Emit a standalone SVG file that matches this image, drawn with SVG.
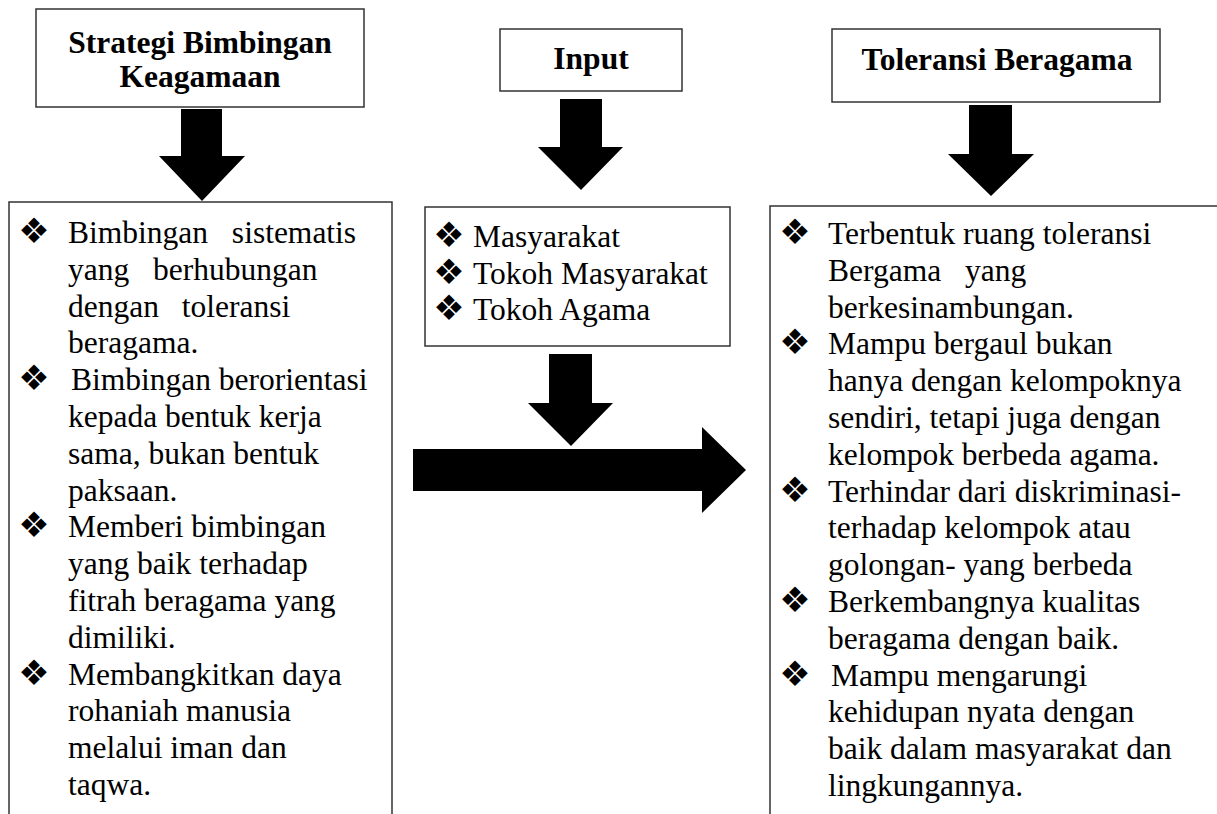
<svg xmlns="http://www.w3.org/2000/svg" width="1217" height="814" viewBox="0 0 1217 814">
<style>
.box{fill:#fff;stroke:#333;stroke-width:1.5}
.title{font-family:"Liberation Serif","Times New Roman",serif;font-weight:bold;font-size:31.5px;fill:#000;text-anchor:middle}
.body{font-family:"Liberation Serif","Times New Roman",serif;font-size:31.5px;fill:#000}
.bul{font-family:"DejaVu Sans",sans-serif;font-size:35px;fill:#000;text-anchor:middle}
.arrow{fill:#000}
.ws{word-spacing:16px}
</style>
<rect width="1217" height="814" fill="#fff"/>
<g id="connectors">
<polygon class="arrow" points="181,109 222,109 222,156 245,156 202,201 159,156 181,156"/>
<polygon class="arrow" points="560,99 602,99 602,147 623,147 581,190 538,147 560,147"/>
<polygon class="arrow" points="969,105 1012,105 1012,154 1034,154 991,196 948,154 969,154"/>
<polygon class="arrow" points="413,449 702,449 702,427 746,470 702,513 702,491 413,491"/>
<polygon class="arrow" points="549,354 592,354 592,403 613,403 571,446 528,403 549,403"/>
</g>
<g id="node-strategi">
<rect class="box" x="36" y="9" width="328" height="98"/>
<text class="title" x="200" y="53">Strategi Bimbingan</text>
<text class="title" x="200" y="87">Keagamaan</text>
</g>
<g id="node-input">
<rect class="box" x="500" y="29" width="182" height="62"/>
<text class="title" x="591" y="69">Input</text>
</g>
<g id="node-toleransi">
<rect class="box" x="832" y="29" width="328" height="73"/>
<text class="title" x="997" y="70">Toleransi Beragama</text>
</g>
<g id="node-strategi-list">
<rect class="box" x="9" y="202" width="383" height="700"/>
<text class="bul" x="34" y="243">❖</text>
<text class="bul" x="34" y="390.2">❖</text>
<text class="bul" x="34" y="537.4">❖</text>
<text class="bul" x="34" y="684.6">❖</text>
<text class="body ws" x="68" y="243">Bimbingan sistematis</text>
<text class="body ws" x="68" y="279.8">yang berhubungan</text>
<text class="body" x="68" y="316.6" style="word-spacing:15px">dengan toleransi</text>
<text class="body" x="68" y="353.4">beragama.</text>
<text class="body" x="71" y="390.2">Bimbingan berorientasi</text>
<text class="body" x="68" y="427">kepada bentuk kerja</text>
<text class="body" x="68" y="463.8">sama, bukan bentuk</text>
<text class="body" x="68" y="500.6">paksaan.</text>
<text class="body" x="68" y="537.4">Memberi bimbingan</text>
<text class="body" x="68" y="574.2">yang baik terhadap</text>
<text class="body" x="68" y="611">fitrah beragama yang</text>
<text class="body" x="68" y="647.8">dimiliki.</text>
<text class="body" x="68" y="684.6">Membangkitkan daya</text>
<text class="body" x="68" y="721.4">rohaniah manusia</text>
<text class="body" x="68" y="758.2">melalui iman dan</text>
<text class="body" x="68" y="795">taqwa.</text>
</g>
<g id="node-input-list">
<rect class="box" x="425" y="207" width="305" height="139"/>
<text class="bul" x="449" y="247">❖</text>
<text class="bul" x="449" y="283.5">❖</text>
<text class="bul" x="449" y="320">❖</text>
<text class="body" x="473" y="247">Masyarakat</text>
<text class="body" x="473" y="283.5">Tokoh Masyarakat</text>
<text class="body" x="473" y="320">Tokoh Agama</text>
</g>
<g id="node-toleransi-list">
<rect class="box" x="770" y="206" width="500" height="700"/>
<text class="bul" x="795" y="244">❖</text>
<text class="bul" x="795" y="354.4">❖</text>
<text class="bul" x="795" y="501.6">❖</text>
<text class="bul" x="795" y="612">❖</text>
<text class="bul" x="795" y="685.6">❖</text>
<text class="body" x="828" y="244">Terbentuk ruang toleransi</text>
<text class="body ws" x="828" y="280.8">Bergama yang</text>
<text class="body" x="828" y="317.6">berkesinambungan.</text>
<text class="body" x="828" y="354.4">Mampu bergaul bukan</text>
<text class="body" x="828" y="391.2">hanya dengan kelompoknya</text>
<text class="body" x="828" y="428">sendiri, tetapi juga dengan</text>
<text class="body" x="828" y="464.8">kelompok berbeda agama.</text>
<text class="body" x="828" y="501.6">Terhindar dari diskriminasi-</text>
<text class="body" x="828" y="538.4">terhadap kelompok atau</text>
<text class="body" x="828" y="575.2">golongan- yang berbeda</text>
<text class="body" x="828" y="612">Berkembangnya kualitas</text>
<text class="body" x="828" y="648.8">beragama dengan baik.</text>
<text class="body" x="831" y="685.6">Mampu mengarungi</text>
<text class="body" x="828" y="722.4">kehidupan nyata dengan</text>
<text class="body" x="828" y="759.2">baik dalam masyarakat dan</text>
<text class="body" x="828" y="796">lingkungannya.</text>
</g>
</svg>
